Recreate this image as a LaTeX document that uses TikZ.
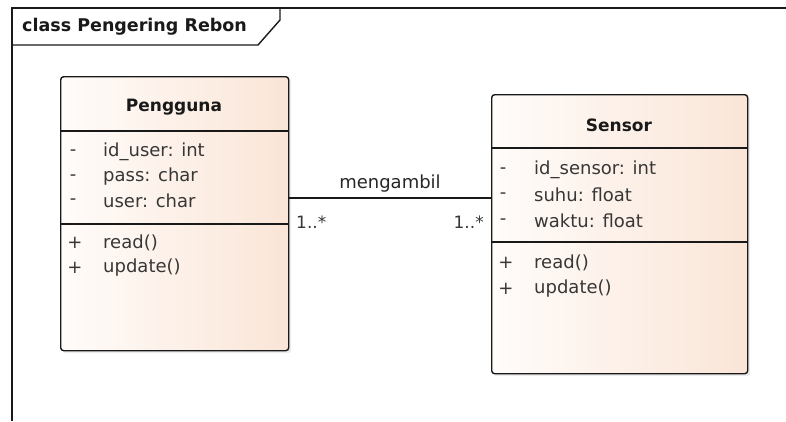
\documentclass[tikz,border=0pt]{standalone}
\usepackage{fontspec}
\setmainfont{DejaVu Sans}
\usetikzlibrary{shadows}
\definecolor{peach}{RGB}{250,229,215}
\definecolor{peachl}{RGB}{255,252,250}
\definecolor{txt}{RGB}{55,55,55}
\begin{document}
\begin{tikzpicture}[x=1pt,y=-1pt,
  cls/.style={draw=black!90, line width=1.4pt, rounded corners=3pt,
    left color=peachl, right color=peach,
    drop shadow={opacity=0.15,shadow xshift=2.5pt,shadow yshift=-2.5pt},
    inner sep=0pt, anchor=north west},
  div/.style={draw=black!90, line width=1.4pt},
  clsname/.style={font=\fontsize{17}{20}\selectfont\bfseries, text=black!90, inner sep=0pt},
  member/.style={font=\fontsize{18}{21}\selectfont, text=txt, inner sep=0pt, anchor=west},
  vis/.style={font=\fontsize{18}{21}\selectfont, text=txt, inner sep=0pt},
  frameline/.style={draw=black!90, line width=1.4pt},
  assoc/.style={draw=black!90, line width=1.3pt}]
\useasboundingbox (0,0) rectangle (786,421);
% frame
\draw[frameline] (12,421) -- (12,8) -- (786,8);
\draw[frameline] (12,45) -- (258,45) -- (280,20) -- (280,8);
\node[font=\fontsize{17.5}{20}\selectfont\bfseries, text=black!90, inner sep=0pt, anchor=west] (title) at (22,27) {class Pengering Rebon};
% Pengguna
\node[cls, minimum width=228pt, minimum height=274pt] (peng) at (60,76) {};
\draw[div] (peng.west |- 0,131) -- (peng.east |- 0,131);
\draw[div] (peng.west |- 0,224) -- (peng.east |- 0,224);
\node[clsname] (pengT) at (174,107) {Pengguna};
\node[vis] (pv1) at (73,153) {-};
\node[member] (pa1) at (103,152) {id\_user: int};
\node[vis] (pv2) at (73,178) {-};
\node[member] (pa2) at (103,177) {pass: char};
\node[vis] (pv3) at (73,202) {-};
\node[member] (pa3) at (103,201) {user: char};
\node[vis] (pv4) at (75,243) {+};
\node[member] (pm1) at (103,243) {read()};
\node[vis] (pv5) at (75,268) {+};
\node[member] (pm2) at (103,268) {update()};
% Sensor
\node[cls, minimum width=256pt, minimum height=279pt] (sen) at (491,94) {};
\draw[div] (sen.west |- 0,148) -- (sen.east |- 0,148);
\draw[div] (sen.west |- 0,242) -- (sen.east |- 0,242);
\node[clsname] (senT) at (619,125) {Sensor};
\node[vis] (sv1) at (503,171) {-};
\node[member] (sa1) at (534,170) {id\_sensor: int};
\node[vis] (sv2) at (503,196) {-};
\node[member] (sa2) at (534,195) {suhu: float};
\node[vis] (sv3) at (503,222) {-};
\node[member] (sa3) at (534,221) {waktu: float};
\node[vis] (sv4) at (506,263) {+};
\node[member] (sm1) at (534,263) {read()};
\node[vis] (sv5) at (506,289) {+};
\node[member] (sm2) at (534,289) {update()};
% association
\coordinate (a1) at (peng.east |- 0,198);
\coordinate (a2) at (sen.west |- 0,198);
\draw[assoc] (a1) -- (a2);
\node[font=\fontsize{18}{21}\selectfont, text=black!85, inner sep=0pt] (lab) at (390,184) {mengambil};
\node[font=\fontsize{17}{20}\selectfont, text=txt, inner sep=0pt, anchor=west] (m1) at (296,222) {1..*};
\node[font=\fontsize{17}{20}\selectfont, text=txt, inner sep=0pt, anchor=east] (m2) at (484,222) {1..*};
\end{tikzpicture}
\end{document}
